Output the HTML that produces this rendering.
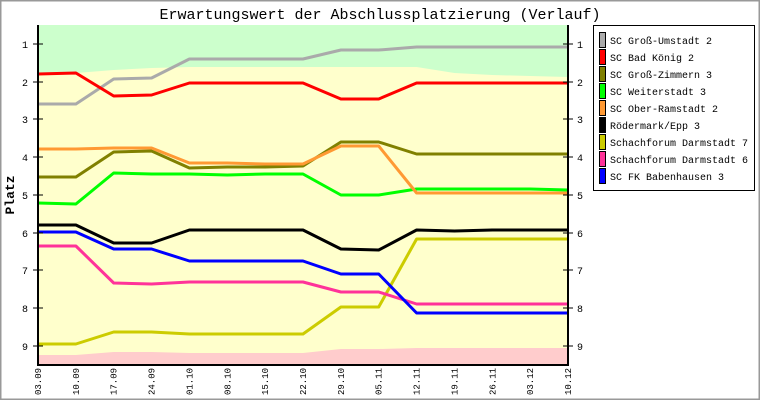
<!DOCTYPE html>
<html><head><meta charset="utf-8"><style>
html,body{margin:0;padding:0;background:#fff}
svg{display:block}
text{font-family:"Liberation Mono","DejaVu Sans Mono",monospace}
</style></head><body>
<svg width="760" height="400" viewBox="0 0 760 400" xmlns="http://www.w3.org/2000/svg">
<rect x="0.5" y="0.5" width="759" height="399" fill="#fff" stroke="#999" stroke-width="2"/>
<text x="380" y="19" text-anchor="middle" font-size="15">Erwartungswert der Abschlussplatzierung (Verlauf)</text>
<rect x="38" y="25" width="530" height="340" fill="#ffffcc"/>
<polygon fill="#ccffcc" points="38,25 568,25 568,77 530.2,76 492.3,75 454.5,73 416.6,67 378.7,67 340.9,67 303,67 265.2,67 227.3,67 189.4,67 151.6,68 113.7,70 75.9,73 38,73"/>
<polygon fill="#ffcccc" points="38,365 568,365 568,348 530.2,348 492.3,348 454.5,348 416.6,348 378.7,349 340.9,349 303,353 265.2,353 227.3,353 189.4,353 151.6,352 113.7,352 75.9,355 38,355"/>
<g fill="none" stroke-width="3" stroke-linejoin="round">
<polyline stroke="#aaaaaa" points="38,104 75.9,104 113.7,79 151.6,78 189.4,59 227.3,59 265.2,59 303,59 340.9,50 378.7,50 416.6,47 454.5,47 492.3,47 530.2,47 568,47"/>
<polyline stroke="#ff0000" points="38,74 75.9,73 113.7,96 151.6,95 189.4,83 227.3,83 265.2,83 303,83 340.9,99 378.7,99 416.6,83 454.5,83 492.3,83 530.2,83 568,83"/>
<polyline stroke="#808000" points="38,177 75.9,177 113.7,152 151.6,151 189.4,168 227.3,167 265.2,167 303,166 340.9,142 378.7,142 416.6,154 454.5,154 492.3,154 530.2,154 568,154"/>
<polyline stroke="#00ff00" points="38,203 75.9,204 113.7,173 151.6,174 189.4,174 227.3,175 265.2,174 303,174 340.9,195 378.7,195 416.6,189 454.5,189 492.3,189 530.2,189 568,190"/>
<polyline stroke="#ff9933" points="38,149 75.9,149 113.7,148 151.6,148 189.4,163 227.3,163 265.2,164 303,164 340.9,146 378.7,146 416.6,193 454.5,193 492.3,193 530.2,193 568,193"/>
<polyline stroke="#000000" points="38,225 75.9,225 113.7,243 151.6,243 189.4,230 227.3,230 265.2,230 303,230 340.9,249 378.7,250 416.6,230 454.5,231 492.3,230 530.2,230 568,230"/>
<polyline stroke="#cccc00" points="38,344 75.9,344 113.7,332 151.6,332 189.4,334 227.3,334 265.2,334 303,334 340.9,307 378.7,307 416.6,239 454.5,239 492.3,239 530.2,239 568,239"/>
<polyline stroke="#ff3399" points="38,246 75.9,246 113.7,283 151.6,284 189.4,282 227.3,282 265.2,282 303,282 340.9,292 378.7,292 416.6,304 454.5,304 492.3,304 530.2,304 568,304"/>
<polyline stroke="#0000ff" points="38,232 75.9,232 113.7,249 151.6,249 189.4,261 227.3,261 265.2,261 303,261 340.9,274 378.7,274 416.6,313 454.5,313 492.3,313 530.2,313 568,313"/>
</g>
<g stroke="#000" stroke-width="2">
<line x1="38" y1="25" x2="38" y2="366"/>
<line x1="568" y1="25" x2="568" y2="366"/>
<line x1="37" y1="365" x2="569" y2="365"/>
</g>
<g stroke="#000" stroke-width="1">
<path d="M33 44H43M33 82H43M33 119H43M33 157H43M33 195H43M33 233H43M33 270H43M33 308H43M33 346H43"/>
<path d="M563 44H573M563 82H573M563 119H573M563 157H573M563 195H573M563 233H573M563 270H573M563 308H573M563 346H573"/>
</g>
<g font-size="10" text-anchor="middle">
<text x="25" y="48">1</text><text x="25" y="86">2</text><text x="25" y="123">3</text><text x="25" y="161">4</text><text x="25" y="199">5</text><text x="25" y="237">6</text><text x="25" y="274">7</text><text x="25" y="312">8</text><text x="25" y="350">9</text>
<text x="580" y="48">1</text><text x="580" y="86">2</text><text x="580" y="123">3</text><text x="580" y="161">4</text><text x="580" y="199">5</text><text x="580" y="237">6</text><text x="580" y="274">7</text><text x="580" y="312">8</text><text x="580" y="350">9</text>
</g>
<text transform="translate(14,195) rotate(-90)" font-size="13" font-weight="bold" text-anchor="middle">Platz</text>
<g font-size="9" text-anchor="start">
<text transform="translate(41,395) rotate(-90)">03.09</text>
<text transform="translate(78.9,395) rotate(-90)">10.09</text>
<text transform="translate(116.7,395) rotate(-90)">17.09</text>
<text transform="translate(154.6,395) rotate(-90)">24.09</text>
<text transform="translate(192.4,395) rotate(-90)">01.10</text>
<text transform="translate(230.3,395) rotate(-90)">08.10</text>
<text transform="translate(268.2,395) rotate(-90)">15.10</text>
<text transform="translate(306,395) rotate(-90)">22.10</text>
<text transform="translate(343.9,395) rotate(-90)">29.10</text>
<text transform="translate(381.7,395) rotate(-90)">05.11</text>
<text transform="translate(419.6,395) rotate(-90)">12.11</text>
<text transform="translate(457.5,395) rotate(-90)">19.11</text>
<text transform="translate(495.3,395) rotate(-90)">26.11</text>
<text transform="translate(533.2,395) rotate(-90)">03.12</text>
<text transform="translate(571,395) rotate(-90)">10.12</text>
</g>
<rect x="593.5" y="25.5" width="161" height="165" fill="#fff" stroke="#000"/>
<g stroke="#000" stroke-width="1">
<rect x="599.5" y="32.5" width="6" height="15" fill="#aaaaaa"/>
<rect x="599.5" y="49.5" width="6" height="15" fill="#ff0000"/>
<rect x="599.5" y="66.5" width="6" height="15" fill="#808000"/>
<rect x="599.5" y="83.5" width="6" height="15" fill="#00ff00"/>
<rect x="599.5" y="100.5" width="6" height="15" fill="#ff9933"/>
<rect x="599.5" y="117.5" width="6" height="15" fill="#000000"/>
<rect x="599.5" y="134.5" width="6" height="15" fill="#cccc00"/>
<rect x="599.5" y="151.5" width="6" height="15" fill="#ff3399"/>
<rect x="599.5" y="168.5" width="6" height="15" fill="#0000ff"/>
</g>
<g font-size="10">
<text x="610" y="44">SC Groß-Umstadt 2</text>
<text x="610" y="61">SC Bad König 2</text>
<text x="610" y="78">SC Groß-Zimmern 3</text>
<text x="610" y="95">SC Weiterstadt 3</text>
<text x="610" y="112">SC Ober-Ramstadt 2</text>
<text x="610" y="129">Rödermark/Epp 3</text>
<text x="610" y="146">Schachforum Darmstadt 7</text>
<text x="610" y="163">Schachforum Darmstadt 6</text>
<text x="610" y="180">SC FK Babenhausen 3</text>
</g>
</svg>
</body></html>
